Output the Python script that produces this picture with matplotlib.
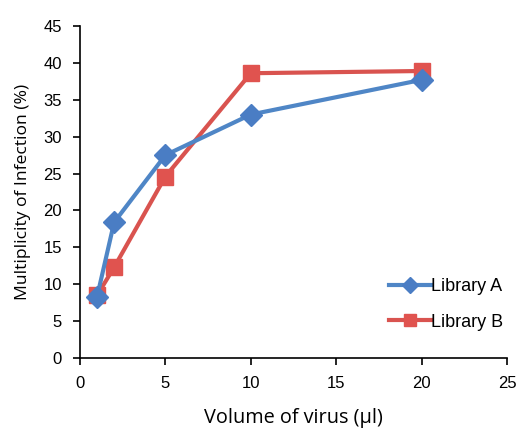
import matplotlib
matplotlib.use("Agg")
import matplotlib.pyplot as plt

volume = [1, 2, 5, 10, 20]
library_a = [8.3, 18.4, 27.5, 33.0, 37.7]
library_b = [8.5, 12.3, 24.6, 38.6, 38.9]
x_ticks = [0, 5, 10, 15, 20, 25]
y_ticks = [0, 5, 10, 15, 20, 25, 30, 35, 40, 45]

fig = plt.figure(figsize=(5.16, 4.33), dpi=100)
ax = fig.add_axes([80 / 516, 1 - 358 / 433, (507 - 80) / 516, (358 - 26) / 433])

ax.plot(volume, library_a, color="#4F86C6", lw=3, marker="D", ms=11,
        mfc="#4A7DC4", mec="#4A7DC4", label="Library A", zorder=3)
ax.plot(volume, library_b, color="#D9534F", lw=3, marker="s", ms=11,
        mfc="#E0534F", mec="#E0534F", label="Library B", zorder=2)

ax.set_xlim(0, 25)
ax.set_ylim(0, 45)
ax.set_xticks(x_ticks)
ax.set_yticks(y_ticks)
for s in ["top", "right"]:
    ax.spines[s].set_visible(False)
for s in ["left", "bottom"]:
    ax.spines[s].set_linewidth(1.2)
ax.tick_params(direction="out", length=5, width=1.2, labelsize=12, pad=8)
for lab in ax.get_xticklabels() + ax.get_yticklabels():
    lab.set_family("Liberation Sans")

ax.set_xlabel("Volume of virus (µl)", fontsize=14.3, family="Open Sans", labelpad=12)
ax.set_ylabel("Multiplicity of Infection (%)", fontsize=12.6, family="Open Sans", labelpad=9)

leg = ax.legend(loc="lower right", bbox_to_anchor=(1.03, 0.033), frameon=False,
                prop={"family": "Liberation Sans", "size": 13}, handlelength=2.3,
                handletextpad=0.05, labelspacing=1.05, markerscale=0.75)

fig.savefig("out.png", dpi=100)
